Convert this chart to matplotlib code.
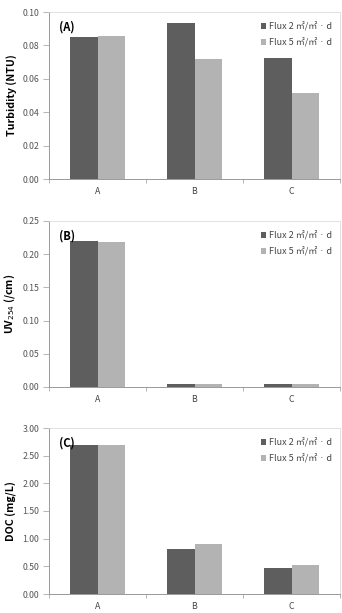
import matplotlib
matplotlib.use("Agg")
import matplotlib.pyplot as plt
import numpy as np

plt.rcParams['font.family'] = ['Noto Sans CJK KR', 'DejaVu Sans']

categories = ["A", "B", "C"]
series_names = ["Flux 2 ㎡/㎡ · d", "Flux 5 ㎡/㎡ · d"]

turbidity_flux2 = [0.0848, 0.0932, 0.0722]
turbidity_flux5 = [0.0858, 0.0716, 0.0514]
uv_flux2 = [0.2204, 0.0050, 0.0050]
uv_flux5 = [0.2189, 0.0045, 0.0048]
doc_flux2 = [2.70, 0.82, 0.47]
doc_flux5 = [2.69, 0.90, 0.52]

panels = [
    ("(A)", "Turbidity (NTU)", turbidity_flux2, turbidity_flux5, [0, 0.02, 0.04, 0.06, 0.08, 0.10], 0.10),
    ("(B)", "UV$_{254}$ (/cm)", uv_flux2, uv_flux5, [0, 0.05, 0.10, 0.15, 0.20, 0.25], 0.25),
    ("(C)", "DOC (mg/L)", doc_flux2, doc_flux5, [0, 0.5, 1.0, 1.5, 2.0, 2.5, 3.0], 3.0),
]

W, H = 342, 613
fig = plt.figure(figsize=(W / 100, H / 100), dpi=100)
boxes = [(49, 12, 179), (49, 221, 387), (49, 428, 594)]
right = 340
dark = "#5e5e5e"
light = "#b3b3b3"

for (lab, ylab, s1, s2, yt, ymax), (l, t, b) in zip(panels, boxes):
    ax = fig.add_axes([l / W, 1 - b / H, (right - l) / W, (b - t) / H])
    x = np.arange(len(categories))
    w = 0.285
    ax.bar(x - w / 2, s1, w, color=dark, label=series_names[0])
    ax.bar(x + w / 2, s2, w, color=light, label=series_names[1])
    ax.set_xlim(-0.5, 2.5)
    ax.set_ylim(0, ymax)
    ax.set_yticks(yt)
    ax.set_yticklabels([f"{v:.2f}" for v in yt], fontsize=6.3, color="#555555")
    ax.set_xticks(x)
    ax.set_xticklabels(categories, fontsize=6.3, color="#444444")
    ax.tick_params(axis='x', length=0, pad=6)
    ax.tick_params(axis='y', length=4, width=0.6, color="#aaaaaa", pad=3)
    ax.set_xticks([-0.5, 0.5, 1.5, 2.5], minor=True)
    ax.tick_params(axis='x', which='minor', length=3, width=0.6, color="#aaaaaa", direction='out')
    for sp in ['left', 'bottom']:
        ax.spines[sp].set_color("#999999")
        ax.spines[sp].set_linewidth(0.7)
    for sp in ['top', 'right']:
        ax.spines[sp].set_color("#dddddd")
        ax.spines[sp].set_linewidth(0.6)
    ax.set_ylabel(ylab, fontsize=7.6, fontweight='bold', labelpad=4)
    ax.text(0.035, 0.91, lab, transform=ax.transAxes, fontsize=8, fontweight='bold',
            ha='left', va='center')
    ax.legend(loc='upper right', frameon=False, fontsize=6.5, handlelength=0.6,
              handleheight=0.6, handletextpad=0.3, labelspacing=0.75,
              bbox_to_anchor=(1.0, 0.99), labelcolor="#444444")

fig.savefig("out.png", dpi=100)
